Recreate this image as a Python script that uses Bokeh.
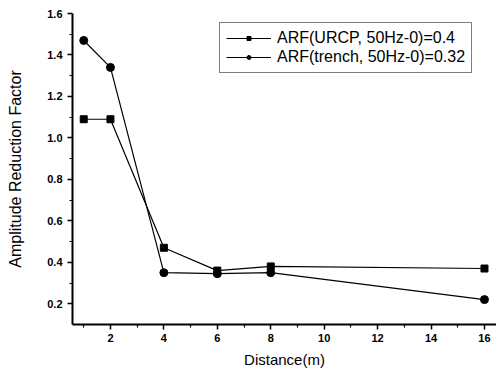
from bokeh.plotting import figure
from bokeh.models import Range1d, Legend, LegendItem, FixedTicker, PrintfTickFormatter
from bokeh.embed import file_html
from bokeh.resources import INLINE

distance = [1, 2, 4, 6, 8, 16]
arf_urcp = [1.09, 1.09, 0.47, 0.36, 0.38, 0.37]
arf_trench = [1.47, 1.34, 0.35, 0.345, 0.35, 0.22]
label_urcp = "ARF(URCP, 50Hz-0)=0.4"
label_trench = "ARF(trench, 50Hz-0)=0.32"
x_ticks = [2, 4, 6, 8, 10, 12, 14, 16]
y_ticks = [0.2, 0.4, 0.6, 0.8, 1.0, 1.2, 1.4, 1.6]

p = figure(width=496, height=374, output_backend="svg", toolbar_location=None,
           x_range=Range1d(0.58, 16.45), y_range=Range1d(0.1, 1.6),
           min_border_left=72, min_border_right=0, min_border_top=13, min_border_bottom=50)
p.outline_line_color = None
p.grid.visible = False
p.background_fill_color = "white"

r1l = p.line(distance, arf_urcp, line_color="black", line_width=1.2)
r1m = p.scatter(distance, arf_urcp, marker="square", size=7, color="black")
r2l = p.line(distance, arf_trench, line_color="black", line_width=1.2)
r2m = p.scatter(distance, arf_trench, marker="circle", size=8, color="black")

for ax in (p.xaxis[0], p.yaxis[0]):
    ax.axis_line_width = 2
    ax.axis_line_color = "black"
    ax.major_tick_line_width = 1.5
    ax.major_tick_out = 5
    ax.major_tick_in = 0
    ax.minor_tick_out = 3
    ax.minor_tick_in = 0
    ax.minor_tick_line_width = 1.2
    ax.major_label_text_font = "Liberation Sans"
    ax.major_label_text_font_style = "bold"
    ax.major_label_text_font_size = "11px"
    ax.major_label_text_color = "black"
    ax.axis_label_text_font = "Liberation Sans"
    ax.axis_label_text_font_style = "normal"
    ax.axis_label_text_color = "black"

p.xaxis.ticker = FixedTicker(ticks=x_ticks, minor_ticks=[1, 3, 5, 7, 9, 11, 13, 15])
p.yaxis.ticker = FixedTicker(ticks=y_ticks, minor_ticks=[0.3, 0.5, 0.7, 0.9, 1.1, 1.3, 1.5])
p.yaxis.formatter = PrintfTickFormatter(format="%.1f")
p.xaxis.axis_label = "Distance(m)"
p.yaxis.axis_label = "Amplitude Reduction Factor"
p.xaxis.axis_label_text_font_size = "15px"
p.yaxis.axis_label_text_font_size = "16px"
p.xaxis.major_label_standoff = 4
p.xaxis.axis_label_standoff = 6
p.yaxis.major_label_standoff = 5
p.yaxis.axis_label_standoff = 20

legend = Legend(items=[LegendItem(label=label_urcp, renderers=[r1l, r1m]),
                       LegendItem(label=label_trench, renderers=[r2l, r2m])],
                location=(147, 251))
legend.border_line_color = "black"
legend.border_line_width = 1
legend.label_text_font = "Liberation Sans"
legend.label_text_font_size = "16px"
legend.label_text_color = "black"
legend.glyph_width = 45
legend.label_standoff = 6
legend.padding = 6
legend.spacing = 1
legend.margin = 0
legend.label_height = 18
legend.glyph_height = 10
p.add_layout(legend)

open("out.html", "w").write(file_html(p, INLINE))
